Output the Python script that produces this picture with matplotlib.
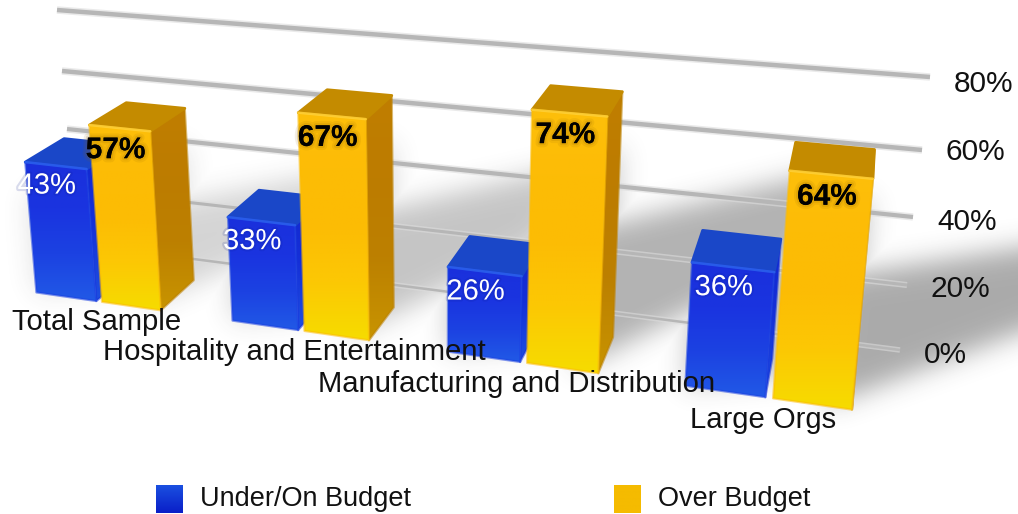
import numpy as np
import matplotlib
matplotlib.use("Agg")
import matplotlib.pyplot as plt
import matplotlib.patheffects as pe
from matplotlib.patches import Polygon
from matplotlib.colors import LinearSegmentedColormap
from matplotlib.path import Path

categories = ["Total Sample", "Hospitality and Entertainment",
              "Manufacturing and Distribution", "Large Orgs"]
under_budget = [43, 33, 26, 36]
over_budget = [57, 67, 74, 64]
grid_levels = [0, 20, 40, 60, 80]
grid_labels = ["0%", "20%", "40%", "60%", "80%"]

W, H = 1018, 514
BLUE_W = 0.315
GOLD_W = 0.30
GOLD_OFFSET = 0.345

# camera: scene corners (slot, percent, depth) and where they land on the canvas
scene = [(0, 0, 0), (4, 0, 0), (0, 100, 0), (4, 100, 0),
         (0, 0, 1), (4, 0, 1), (0, 100, 1), (4, 100, 1)]
canvas = [(35, 293), (950, 418), (9, -20), (992, 48),
          (75, 263), (945, 388), (51, -40), (985, 20)]

# back wall edges for each gridline
wall_left = [(77, 244), (72, 189), (67, 129), (62, 71), (57, 10)]
wall_right = [(900, 350), (907, 285), (913, 217), (922, 150), (930, 77)]
grid_widths = [1.8, 2.2, 3.0, 3.2, 3.2]
grid_label_dy = [5, 4, 5, 2, 7]

# how dark the shadow behind each group gets
shadow_strength = [0.22, 0.30, 0.40, 0.44]
name_dx = [-5, -10, -11, -10]
name_dy = [20, 21, 21, 22]


def fit_camera(world, pixels):
    rows = []
    for (x, y, z), (u, v) in zip(world, pixels):
        p = [x, y, z, 1]
        rows.append(p + [0, 0, 0, 0] + [-u * c for c in p])
        rows.append([0, 0, 0, 0] + p + [-v * c for c in p])
    _, _, vt = np.linalg.svd(np.array(rows, dtype=float))
    return vt[-1].reshape(3, 4)


CAM = fit_camera(scene, canvas)


def project(x, y, z):
    q = CAM @ np.array([x, y, z, 1.0])
    return q[0] / q[2], q[1] / q[2]


def blur(img, sigma):
    r = int(3 * sigma)
    k = np.exp(-0.5 * (np.arange(-r, r + 1) / sigma) ** 2)
    k /= k.sum()
    img = np.apply_along_axis(lambda m: np.convolve(m, k, mode="same"), 0, img)
    img = np.apply_along_axis(lambda m: np.convolve(m, k, mode="same"), 1, img)
    return img


def shadow_layer(ax):
    # soft shadow: a halo round every group plus a wedge rising to the right
    pad = 60
    yy, xx = np.mgrid[-pad:H + pad, -pad:W + pad]
    pts = np.column_stack([xx.ravel() + 0.5, yy.ravel() + 0.5])
    shape = xx.shape
    total = np.zeros(shape)
    for i in range(len(categories)):
        hi = max(under_budget[i], over_budget[i])
        x_r = i + GOLD_OFFSET + GOLD_W
        wedge = Path([project(x_r - 0.1, 0, 0), project(x_r - 0.1, hi * 0.5, 0.5),
                      project(x_r + 0.9, hi * 0.9, 0), project(x_r + 0.75, hi * 0.55, 0)])
        halo = Path([project(i, 0, 0), project(i, under_budget[i] * 0.75, 0),
                     project(x_r, over_budget[i] * 0.8, 1), project(x_r, 0, 1)])
        m = blur(wedge.contains_points(pts).reshape(shape).astype(float), 13)
        h = blur(halo.contains_points(pts).reshape(shape).astype(float), 13)
        total = np.maximum(total, np.maximum(m, h * 0.75) * shadow_strength[i])
    rgba = np.zeros((H, W, 4))
    rgba[..., :3] = 0.25
    rgba[..., 3] = total[pad:-pad, pad:-pad]
    ax.imshow(rgba, extent=(0, W, H, 0), zorder=1, interpolation="bilinear")


def gradient_poly(ax, verts, colors, zorder):
    # vertical colour ramp clipped to a polygon
    verts = np.array(verts)
    cmap = LinearSegmentedColormap.from_list("ramp", colors)
    im = ax.imshow(np.linspace(0, 1, 128).reshape(-1, 1), cmap=cmap, aspect="auto",
                   extent=(verts[:, 0].min(), verts[:, 0].max(),
                           verts[:, 1].max(), verts[:, 1].min()),
                   zorder=zorder, interpolation="bilinear")
    patch = Polygon(verts, closed=True, transform=ax.transData, fc="none", ec="none")
    ax.add_patch(patch)
    im.set_clip_path(patch)
    ax.add_patch(Polygon(verts, closed=True, fc="none", ec=colors[len(colors) // 2],
                         lw=1.6, alpha=0.55, joinstyle="round", zorder=zorder))


def draw_bar(ax, x, width, value, front, side, top, shine, zorder):
    x2 = x + width
    fl_b, fr_b = project(x, 0, 0), project(x2, 0, 0)
    fl_t, fr_t = project(x, value, 0), project(x2, value, 0)
    bl_t, br_t = project(x, value, 1), project(x2, value, 1)
    br_b = project(x2, 0, 1)
    gradient_poly(ax, [fr_t, br_t, br_b, fr_b], side, zorder)
    ax.add_patch(Polygon([fl_t, fr_t, br_t, bl_t], closed=True, fc=top, ec=top,
                         lw=2.0, joinstyle="round", zorder=zorder + 0.1))
    gradient_poly(ax, [fl_t, fr_t, fr_b, fl_b], front, zorder + 0.2)
    ax.plot([fl_t[0], fr_t[0]], [fl_t[1], fr_t[1]], color=shine, lw=1.8, alpha=0.8,
            solid_capstyle="round", zorder=zorder + 0.3)


plt.rcParams["font.family"] = ["Liberation Sans", "DejaVu Sans"]
fig = plt.figure(figsize=(W / 100, H / 100), dpi=100)
ax = fig.add_axes([0, 0, 1, 1])

shadow_layer(ax)

for i, level in enumerate(grid_levels):
    xs = [wall_left[i][0], wall_right[i][0]]
    ys = [wall_left[i][1], wall_right[i][1]]
    lw = grid_widths[i]
    ax.plot(xs, ys, color="#dcdcdc", lw=lw + 2.2, solid_capstyle="butt", zorder=2, alpha=0.6)
    ax.plot(xs, ys, color="#b6b6b6", lw=lw, solid_capstyle="butt", zorder=2.1)
    ax.text(wall_right[i][0] + 24, wall_right[i][1] + grid_label_dy[i], grid_labels[i],
            fontsize=21.5, ha="left", va="center", color="#111111", zorder=9)

blue_front = ["#1a30dc", "#1a34e0", "#1c42e2", "#2159e6"]
blue_side = ["#1228d0", "#1530d8", "#1e4fe0"]
gold_front = ["#fdbf0a", "#fdbc06", "#fcbc04", "#fcc804", "#f6dc00"]
gold_side = ["#c07e00", "#bd7c00", "#bc8000", "#c89400"]

for i in range(len(categories)):
    draw_bar(ax, i, BLUE_W, under_budget[i], blue_front, blue_side, "#1a47c8", "#2c62ee", 3 + i)
    draw_bar(ax, i + GOLD_OFFSET, GOLD_W, over_budget[i], gold_front, gold_side, "#c48b00",
             "#ffd23c", 3.5 + i)

# value labels sit a little under the front top edge of each column
for i in range(len(categories)):
    px, py = project(i + BLUE_W / 2, under_budget[i], 0)
    ax.text(px - 9, py + 20, f"{under_budget[i]}%", color="white", fontsize=21,
            ha="center", va="center", zorder=20,
            path_effects=[pe.withStroke(linewidth=3, foreground="#0a1a90", alpha=0.15)])
    px, py = project(i + GOLD_OFFSET + GOLD_W / 2, over_budget[i], 0)
    ax.text(px - 4, py + 22, f"{over_budget[i]}%", color="black", fontsize=21.5,
            fontweight="bold", ha="center", va="center", zorder=20,
            path_effects=[pe.withStroke(linewidth=6, foreground="#8a5c00", alpha=0.10),
                          pe.withStroke(linewidth=3, foreground="#8a5c00", alpha=0.15)])

# category names hang below the front edge of each group
for i, name in enumerate(categories):
    px, py = project(i + GOLD_OFFSET, 0, 0)
    ax.text(px + name_dx[i], py + name_dy[i], name, fontsize=21.1, ha="center", va="center",
            color="#111111", zorder=21)

# legend
leg_x = [156, 614]
leg_names = ["Under/On Budget", "Over Budget"]
leg_cols = [["#1a4fe0", "#0a1fc8"], ["#f5bb00", "#f5bb00"]]
for x, name, cols in zip(leg_x, leg_names, leg_cols):
    cmap = LinearSegmentedColormap.from_list("leg", cols)
    ax.imshow(np.linspace(0, 1, 32).reshape(-1, 1), cmap=cmap, aspect="auto",
              extent=(x, x + 27, 513, 485), zorder=5)
    ax.text(x + 44, 499, name, fontsize=19.5, ha="left", va="center", color="#111111")

ax.set_xlim(0, W)
ax.set_ylim(H, 0)
ax.axis("off")
fig.savefig("out.png", dpi=100, facecolor="white")
